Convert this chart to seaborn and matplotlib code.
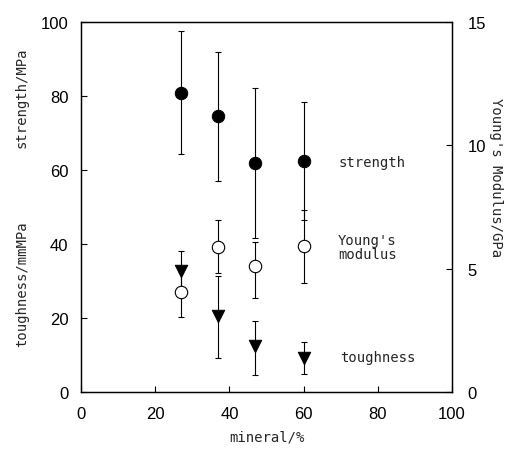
import matplotlib
matplotlib.use("Agg")
import matplotlib.pyplot as plt
import seaborn as sns
import pandas as pd

# dados
mineral = [27, 37, 47, 60]

strength = [80.9, 74.5, 61.8, 62.5]
strength_lo = [64.3, 57.1, 41.5, 46.5]
strength_hi = [97.5, 91.8, 82.3, 78.5]

modulus = [4.04, 5.87, 5.12, 5.91]
modulus_lo = [3.05, 4.82, 3.81, 4.42]
modulus_hi = [5.03, 6.98, 6.08, 7.39]

toughness = [32.6, 20.5, 12.4, 9.3]
toughness_lo = [27.0, 9.1, 4.7, 4.9]
toughness_hi = [38.2, 31.3, 19.3, 13.4]

x_ticks = [0, 20, 40, 60, 80, 100]
left_ticks = [0, 20, 40, 60, 80, 100]
right_ticks = [0, 5, 10, 15]

sns.set_theme(style="ticks")
plt.rcParams['font.family'] = ['Liberation Sans', 'DejaVu Sans']
plt.rcParams['xtick.direction'] = 'in'
plt.rcParams['ytick.direction'] = 'in'

mono = 'DejaVu Sans Mono'

df_left = pd.DataFrame({'mineral': mineral, 'strength': strength, 'toughness': toughness})
df_right = pd.DataFrame({'mineral': mineral, 'modulus': modulus})

fig = plt.figure(figsize=(5.11, 4.52), dpi=100)
ax = fig.add_axes([0.1585, 0.1305, 0.726, 0.8185])
ax2 = ax.twinx()


def err(vals, lo, hi):
    return [[v - l for v, l in zip(vals, lo)], [h - v for v, h in zip(vals, hi)]]


ebkw = dict(fmt='none', ecolor='black', elinewidth=0.8, capsize=2.5, capthick=0.8, zorder=2)
ax.errorbar(mineral, strength, yerr=err(strength, strength_lo, strength_hi), **ebkw)
ax.errorbar(mineral, toughness, yerr=err(toughness, toughness_lo, toughness_hi), **ebkw)
ax2.errorbar(mineral, modulus, yerr=err(modulus, modulus_lo, modulus_hi), **ebkw)

sns.scatterplot(data=df_left, x='mineral', y='strength', ax=ax, marker='o', s=80,
                color='black', edgecolor='black', zorder=3, legend=False)
sns.scatterplot(data=df_left, x='mineral', y='toughness', ax=ax, marker='v', s=80,
                color='black', edgecolor='black', zorder=3, legend=False)
sns.scatterplot(data=df_right, x='mineral', y='modulus', ax=ax2, marker='o', s=80,
                color='white', edgecolor='black', linewidth=0.8, zorder=3, legend=False)

ax.set_xlim(0, 100)
ax.set_ylim(0, 100)
ax2.set_ylim(0, 15)
ax.set_xticks(x_ticks)
ax.set_yticks(left_ticks)
ax2.set_yticks(right_ticks)

for a in (ax, ax2):
    a.tick_params(labelsize=12, length=4, width=0.8, colors='black')
    for s in a.spines.values():
        s.set_linewidth(0.9)
        s.set_color('black')
ax.tick_params(axis='x', pad=10)
ax.tick_params(axis='y', pad=9)
ax2.tick_params(axis='y', pad=11)

ax.set_xlabel('mineral/%', fontsize=10, family=mono, labelpad=6)
ax.set_ylabel('')
ax2.set_ylabel('')

fig.text(0.043, 0.783, 'strength/MPa', rotation=90, ha='center', va='center',
         fontsize=10, family=mono)
fig.text(0.043, 0.372, 'toughness/mmMPa', rotation=90, ha='center', va='center',
         fontsize=10, family=mono)
fig.text(0.971, 0.608, "Young's Modulus/GPa", rotation=-90, ha='center', va='center',
         fontsize=10, family=mono)

ax.text(69.3, 62.2, 'strength', fontsize=10, family=mono, va='center')
ax.text(69.3, 39.2, "Young's\nmodulus", fontsize=10, family=mono, va='center',
        linespacing=0.95)
ax.text(69.8, 9.5, 'toughness', fontsize=10, family=mono, va='center')

fig.savefig('out.png', dpi=100)
